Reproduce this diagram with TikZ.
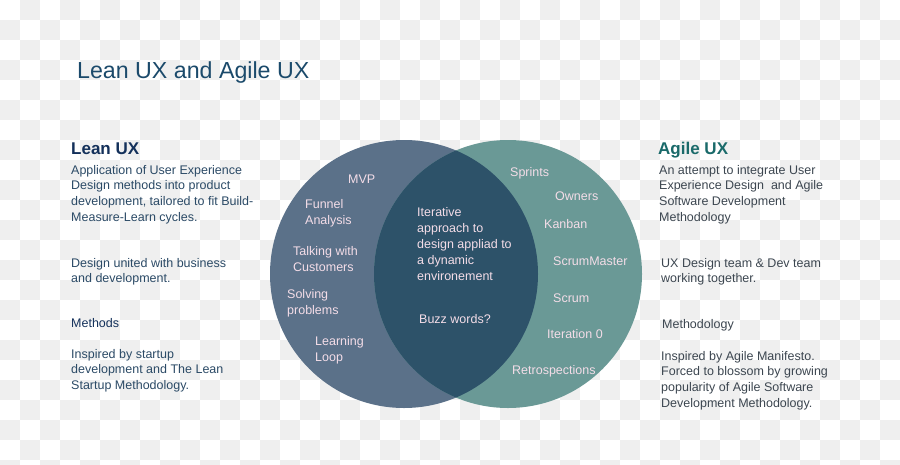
\documentclass[tikz,border=0pt]{standalone}
\usepackage{fontspec}
\setmainfont{Liberation Sans}
\usetikzlibrary{positioning}

\definecolor{leanblue}{HTML}{5B7189}
\definecolor{agileteal}{HTML}{6A9996}
\definecolor{lensblue}{HTML}{2D5269}
\definecolor{checkgray}{HTML}{EFEFEF}
\definecolor{titleblue}{HTML}{1B4A6B}
\definecolor{leannavy}{HTML}{13305A}
\definecolor{agiledark}{HTML}{1A6A6A}
\definecolor{leantext}{HTML}{2B4A66}
\definecolor{agiletext}{HTML}{3C4650}
\definecolor{pinktext}{HTML}{F4DDE8}

\begin{document}
\begin{tikzpicture}[x=1pt,y=-1pt,
    txt/.style={anchor=north west,inner sep=0pt,align=left,
      font=\fontsize{12.5}{15.7}\selectfont},
    head/.style={anchor=north west,inner sep=0pt,
      font=\fontsize{17}{20}\selectfont\bfseries},
    word/.style={txt,text=pinktext,font=\fontsize{12.5}{16}\selectfont}]

    \useasboundingbox (0,0) rectangle (900,464);

    % checker background
    \begin{scope}
        \clip (0,0) rectangle (900,464);
        \fill[white] (0,0) rectangle (900,464);
        \foreach \i in {0,...,44}
          \foreach \j in {0,...,23}{
            \pgfmathparse{int(mod(\i+\j,2))}
            \ifnum\pgfmathresult=1
              \fill[checkgray] (20*\i,20*\j) rectangle ++(20,20);
            \fi
          }
    \end{scope}

    % title
    \node[anchor=north west,inner sep=0pt,text=titleblue,
      font=\fontsize{23.2}{26}\selectfont] (title) at (77,61) {Lean UX and Agile UX};

    % the two circles and their overlap
    \coordinate (leanc) at (404,274);
    \coordinate (agilec) at (508,274);
    \fill[leanblue] (leanc) circle (134pt);
    \fill[agileteal] (agilec) circle (134pt);
    \begin{scope}
        \clip (leanc) circle (134pt);
        \fill[lensblue] (agilec) circle (134pt);
    \end{scope}

    % Lean UX column
    \node[head,text=leannavy] (leanhead) at (71,143) {Lean UX};
    \node[txt,text=leantext] (leandef) at (71,165) {Application of User Experience\\
        Design methods into product\\development, tailored to fit Build-\\Measure-Learn cycles.};
    \node[txt,text=leantext] (leanunite) at (71,258) {Design united with business\\and development.};
    \node[txt,text=leannavy] (leanmeth) at (71,318) {Methods};
    \node[txt,text=leantext] (leaninsp) at (71,349) {Inspired by startup\\
        development and The Lean\\Startup Methodology.};

    % Agile UX column
    \node[head,text=agiledark] (agilehead) at (658,142) {Agile UX};
    \node[txt,text=agiletext] (agiledef) at (659,165) {An attempt to integrate User\\
        Experience Design~ and Agile\\Software Development\\Methodology};
    \node[txt,text=agiletext] (agileteam) at (661,258) {UX Design team \& Dev team\\working together.};
    \node[txt,text=agiletext] (agilemeth) at (662,319) {Methodology};
    \node[txt,text=agiletext] (agileinsp) at (661,351) {Inspired by Agile Manifesto.\\
        Forced to blossom by growing\\popularity of Agile Software\\Development Methodology.};

    % words in the lean circle
    \node[word] (mvp) at (348,175) {MVP};
    \node[word] (funnel) at (305,199) {Funnel\\Analysis};
    \node[word] (talking) at (293,246) {Talking with\\Customers};
    \node[word] (solving) at (287,289) {Solving\\problems};
    \node[word] (learning) at (315,336) {Learning\\Loop};

    % words in the overlap
    \node[word] (iterative) at (417,207) {Iterative\\approach to\\design appliad to\\a dynamic\\environement};
    \node[word] (buzz) at (419,314) {Buzz words?};

    % words in the agile circle
    \node[word] (sprints) at (510,167) {Sprints};
    \node[word] (owners) at (555,192) {Owners};
    \node[word] (kanban) at (544,219) {Kanban};
    \node[word] (master) at (553,257) {ScrumMaster};
    \node[word] (scrum) at (553,294) {Scrum};
    \node[word] (iter) at (547,329) {Iteration 0};
    \node[word] (retro) at (512,365) {Retrospections};

\end{tikzpicture}
\end{document}
